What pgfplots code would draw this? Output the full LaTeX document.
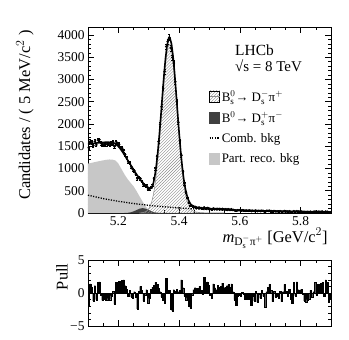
\documentclass[border=0pt]{standalone}
\usepackage{pgfplots}
\pgfplotsset{compat=1.18}
\usepackage{pgfplotstable}
\usepackage{amsmath}
\usepackage{fontspec}
\setmainfont{Liberation Serif}
\usetikzlibrary{patterns}

% fit components
\pgfplotstableread{
m y
5.100 1545
5.105 1550
5.110 1555
5.115 1560
5.120 1565
5.125 1570
5.130 1574
5.135 1578
5.140 1582
5.145 1585
5.150 1587
5.155 1589
5.160 1590
5.165 1590
5.170 1589
5.175 1586
5.180 1580
5.185 1570
5.190 1553
5.195 1528
5.200 1495
5.205 1455
5.210 1410
5.215 1360
5.220 1305
5.225 1250
5.230 1195
5.235 1140
5.240 1085
5.245 1030
5.250 975
5.255 920
5.260 868
5.265 818
5.270 770
5.275 725
5.280 685
5.285 648
5.290 615
5.295 588
5.300 566
5.305 555
5.310 560
5.315 662
5.320 832
5.325 1071
5.330 1385
5.335 1765
5.340 2194
5.345 2647
5.350 3084
5.355 3466
5.360 3753
5.365 3913
5.370 3930
5.375 3795
5.380 3525
5.385 3152
5.390 2714
5.395 2253
5.400 1806
5.405 1400
5.410 1055
5.415 775
5.420 565
5.425 412
5.430 303
5.435 229
5.440 182
5.445 152
5.450 134
5.455 124
5.460 117
5.465 112
5.470 108
5.480 102
5.490 96
5.500 92
5.525 84
5.550 76
5.575 69
5.600 63
5.650 53
5.700 44
5.750 36
5.800 30
5.850 25
5.900 21
}\totalfit

\pgfplotstableread{
m y
5.270 2
5.280 10
5.290 32
5.295 55
5.300 95
5.305 160
5.310 258
5.315 402
5.320 602
5.325 866
5.330 1197
5.335 1590
5.340 2029
5.345 2489
5.350 2932
5.355 3319
5.360 3610
5.365 3773
5.370 3788
5.375 3654
5.380 3387
5.385 3016
5.390 2580
5.395 2121
5.400 1675
5.405 1271
5.410 927
5.415 649
5.420 450
5.425 295
5.430 190
5.435 120
5.440 75
5.445 48
5.450 32
5.460 18
5.470 10
5.480 6
5.500 2
5.550 0
}\signal

\pgfplotstableread{
m y
5.100 1110
5.110 1125
5.120 1140
5.130 1155
5.140 1170
5.150 1183
5.160 1195
5.170 1203
5.180 1200
5.190 1180
5.200 1110
5.210 990
5.220 870
5.230 765
5.240 680
5.250 600
5.260 490
5.270 370
5.280 255
5.290 150
5.300 60
5.305 22
5.310 0
}\partreco

\pgfplotstableread{
m y
5.220 0
5.230 3
5.240 15
5.250 36
5.260 67
5.270 97
5.280 110
5.290 97
5.300 67
5.310 36
5.320 15
5.330 4
5.340 0
}\bzero

\pgfplotstableread{
m y
5.10 400
5.15 324
5.20 263
5.25 213
5.30 173
5.35 140
5.40 113
5.45 92
5.50 75
5.55 60
5.60 49
5.65 40
5.70 32
5.75 26
5.80 21
5.85 17
5.90 14
}\comb

% data (5 MeV bins) and pulls
\pgfplotstableread{
m n p
5.1025 1469 -2.0
5.1075 1608 1.4
5.1125 1593 0.9
5.1175 1515 -1.2
5.1225 1611 1.1
5.1275 1532 -1.0
5.1325 1640 1.6
5.1375 1648 1.7
5.1425 1572 -0.3
5.1475 1542 -1.1
5.1525 1552 -0.9
5.1575 1550 -1.0
5.1625 1546 -1.1
5.1675 1558 -0.8
5.1725 1548 -1.0
5.1775 1567 -0.4
5.1825 1587 0.3
5.1875 1494 -1.7
5.1925 1604 1.6
5.1975 1558 1.2
5.2025 1544 1.8
5.2075 1467 0.9
5.2125 1456 1.9
5.2175 1406 2.0
5.2225 1317 1.1
5.2275 1244 0.6
5.2325 1151 -0.5
5.2375 1126 0.4
5.2425 1038 -0.6
5.2475 981 -0.7
5.2525 954 0.2
5.2575 876 -0.6
5.2625 773 -2.4
5.2675 802 0.3
5.2725 775 1.0
5.2775 716 0.4
5.2825 636 -1.2
5.2875 624 -0.3
5.2925 614 0.5
5.2975 541 -1.5
5.3025 542 -0.8
5.3075 572 0.6
5.3125 633 0.9
5.3175 780 1.2
5.3225 1001 1.6
5.3275 1274 1.3
5.3325 1603 0.7
5.3375 1988 0.2
5.3425 2391 -0.6
5.3475 2807 -1.1
5.3525 3183 -1.6
5.3575 3741 2.2
5.3625 3852 0.3
5.3675 3946 0.4
5.3725 3707 -2.5
5.3775 3497 -2.7
5.3825 3368 0.5
5.3875 2949 0.3
5.3925 2514 0.6
5.3975 2039 0.2
5.4025 1619 0.4
5.4075 1298 2.0
5.4125 939 0.8
5.4175 660 -0.4
5.4225 464 -1.1
5.4275 344 -0.7
5.4325 233 -2.0
5.4375 172 -2.3
5.4425 163 -0.3
5.4475 149 0.5
5.4525 138 0.8
5.4575 123 0.2
5.4625 122 0.7
5.4675 120 1.0
5.4725 111 0.4
5.4775 101 -0.2
5.4825 125 2.4
5.4875 100 0.3
5.4925 112 1.7
5.4975 105 1.2
5.5025 88 -0.3
5.5075 83 -0.7
5.5125 101 1.4
5.5175 93 0.8
5.5225 90 0.5
5.5275 94 1.2
5.5325 90 0.9
5.5375 89 1.0
5.5425 92 1.5
5.5475 84 0.8
5.5525 84 0.9
5.5575 83 1.1
5.5625 84 1.3
5.5675 80 0.9
5.5725 82 1.4
5.5775 71 0.2
5.5825 60 -1.0
5.5875 52 -1.8
5.5925 62 -0.4
5.5975 62 -0.3
5.6025 59 -0.4
5.6075 62 0.1
5.6125 59 -0.2
5.6175 52 -0.9
5.6225 54 -0.6
5.6275 51 -0.9
5.6325 54 -0.3
5.6375 42 -1.8
5.6425 51 -0.5
5.6475 45 -1.2
5.6525 55 0.3
5.6575 42 -1.4
5.6625 49 -0.2
5.6675 44 -0.8
5.6725 52 0.4
5.6775 45 -0.5
5.6825 32 -2.2
5.6875 48 0.2
5.6925 51 0.9
5.6975 53 1.3
5.7025 46 0.4
5.7075 34 -1.3
5.7125 44 0.3
5.7175 37 -0.6
5.7225 37 -0.5
5.7275 35 -0.7
5.7325 41 0.3
5.7375 30 -1.3
5.7425 38 0.2
5.7475 44 1.3
5.7525 37 0.3
5.7575 32 -0.5
5.7625 38 0.6
5.7675 29 -0.9
5.7725 24 -1.6
5.7775 42 1.6
5.7825 30 -0.4
5.7875 41 1.7
5.7925 34 0.5
5.7975 32 0.4
5.8025 33 0.6
5.8075 28 -0.2
5.8125 22 -1.2
5.8175 21 -1.4
5.8225 22 -1.0
5.8275 22 -0.9
5.8325 29 0.4
5.8375 23 -0.6
5.8425 26 0.2
5.8475 33 1.6
5.8525 23 -0.3
5.8575 31 1.3
5.8625 26 0.4
5.8675 31 1.5
5.8725 31 1.6
5.8775 20 -0.5
5.8825 32 2.0
5.8875 30 1.6
5.8925 15 -1.4
5.8975 17 -0.9
}\datatab

\begin{document}
\begin{tikzpicture}
\useasboundingbox (-88bp,-127bp) rectangle (261bp,213bp);
\pgfplotsset{
  lhcbstyle/.style={
    scale only axis,
    width=243bp,
    xmin=5.1, xmax=5.9,
    tick align=inside,
    major tick length=6bp,
    minor tick length=3bp,
    axis line style={line width=0.8pt},
    every tick/.style={black, line width=0.6pt},
    xtick={5.2,5.4,5.6,5.8},
    minor xtick={5.1,5.15,5.2,5.25,5.3,5.35,5.4,5.45,5.5,5.55,5.6,5.65,5.7,5.75,5.8,5.85,5.9},
    tick label style={font=\fontsize{13.5}{15}\selectfont},
    label style={font=\fontsize{16.5}{18}\selectfont},
    /pgf/number format/assume math mode=true,
    /pgf/number format/1000 sep={},
  }
}
\begin{axis}[
  lhcbstyle,
  name=main,
  at={(0,0)}, anchor=south west,
  height=186bp,
  ymin=0, ymax=4180,
  ytick={0,500,1000,1500,2000,2500,3000,3500,4000},
  minor y tick num=4,
  xlabel={\textit{m}$_{\text{D}^{-}_{\text{s}}\text{π}^{+}}$ [GeV/c$^{2}$]},
  xlabel style={at={(rel axis cs:1,0)}, anchor=base east, yshift=-29bp},
  ylabel={Candidates / ( 5 MeV/c$^{2}$ )},
  ylabel style={at={([xshift=-63bp]rel axis cs:0,1)}, anchor=east},
  legend style={draw=none, fill=none, at={(rel axis cs:0.497,0.66)}, anchor=north west,
    font=\fontsize{13}{14}\selectfont, row sep=8.5bp, inner sep=0pt,
    nodes={inner sep=0.5bp}},
  legend cell align=left,
  /tikz/every odd column/.append style={column sep=1bp},
]
\addplot[forget plot, draw=none, fill=black!22] table[x=m, y=y] {\partreco} \closedcycle;
\addplot[forget plot, draw=none, fill=black!75] table[x=m, y=y] {\bzero} \closedcycle;
\addplot[forget plot, draw=black!45, line width=0.5pt, pattern=north east lines, pattern color=black!45] table[x=m, y=y] {\signal} \closedcycle;
\addplot[forget plot, black, line width=1.3pt, dash pattern=on 1.2pt off 1.4pt] table[x=m, y=y] {\comb};
\addplot[forget plot, black, line width=1.6pt] table[x=m, y=y] {\totalfit};
\addplot[forget plot, only marks, mark=*, mark size=1.1pt, black,
  error bars/.cd, y dir=both, y explicit, error bar style={line width=0.5pt}]
  table[x=m, y=n, y error expr=sqrt(\thisrow{n})] {\datatab};

\addlegendimage{legend image code/.code={
  \fill[pattern=north east lines, pattern color=black!45] (0bp,-5bp) rectangle (10bp,6bp);
  \draw[black!45, line width=0.6pt] (0bp,0.5bp) -- (10bp,0.5bp);}}
\addlegendentry{B$^{0}_{\mathrm{s}}$→ D$^{-}_{\mathrm{s}}$π$^{+}$}
\addlegendimage{legend image code/.code={\fill[black!75] (0bp,-5bp) rectangle (10bp,6bp);}}
\addlegendentry{B$^{0}$→ D$^{+}_{\mathrm{s}}$π$^{-}$}
\addlegendimage{legend image code/.code={\draw[black, line width=1.3pt, dash pattern=on 1.2pt off 1.4pt] (0bp,0.5bp) -- (10bp,0.5bp);}}
\addlegendentry{Comb. bkg}
\addlegendimage{legend image code/.code={\fill[black!22] (0bp,-5bp) rectangle (10bp,6bp);}}
\addlegendentry{Part. reco. bkg}

\node[anchor=base west, font=\fontsize{15.5}{17}\selectfont, inner sep=0pt] at (rel axis cs:0.605,0.849) {LHCb};
\node[anchor=base west, font=\fontsize{15}{17}\selectfont, inner sep=0pt] at (rel axis cs:0.605,0.761) {√s = 8 TeV};
\end{axis}

\begin{axis}[
  lhcbstyle,
  at={(0,-47bp)}, anchor=north west,
  height=66bp,
  ymin=-5, ymax=5,
  ytick={-5,0,5}, yticklabels={−5,0,5},
  minor y tick num=4,
  xticklabels={},
  ylabel={Pull},
  ylabel style={at={([xshift=-26bp]rel axis cs:0,1)}, anchor=east},
]
\addplot[black, line width=0.4pt] coordinates {(5.1,0) (5.9,0)};
\addplot[ybar, bar width=0.0045, fill=black, draw=black, line width=0.2pt]
  table[x=m, y=p] {\datatab};
\end{axis}
\end{tikzpicture}
\end{document}
